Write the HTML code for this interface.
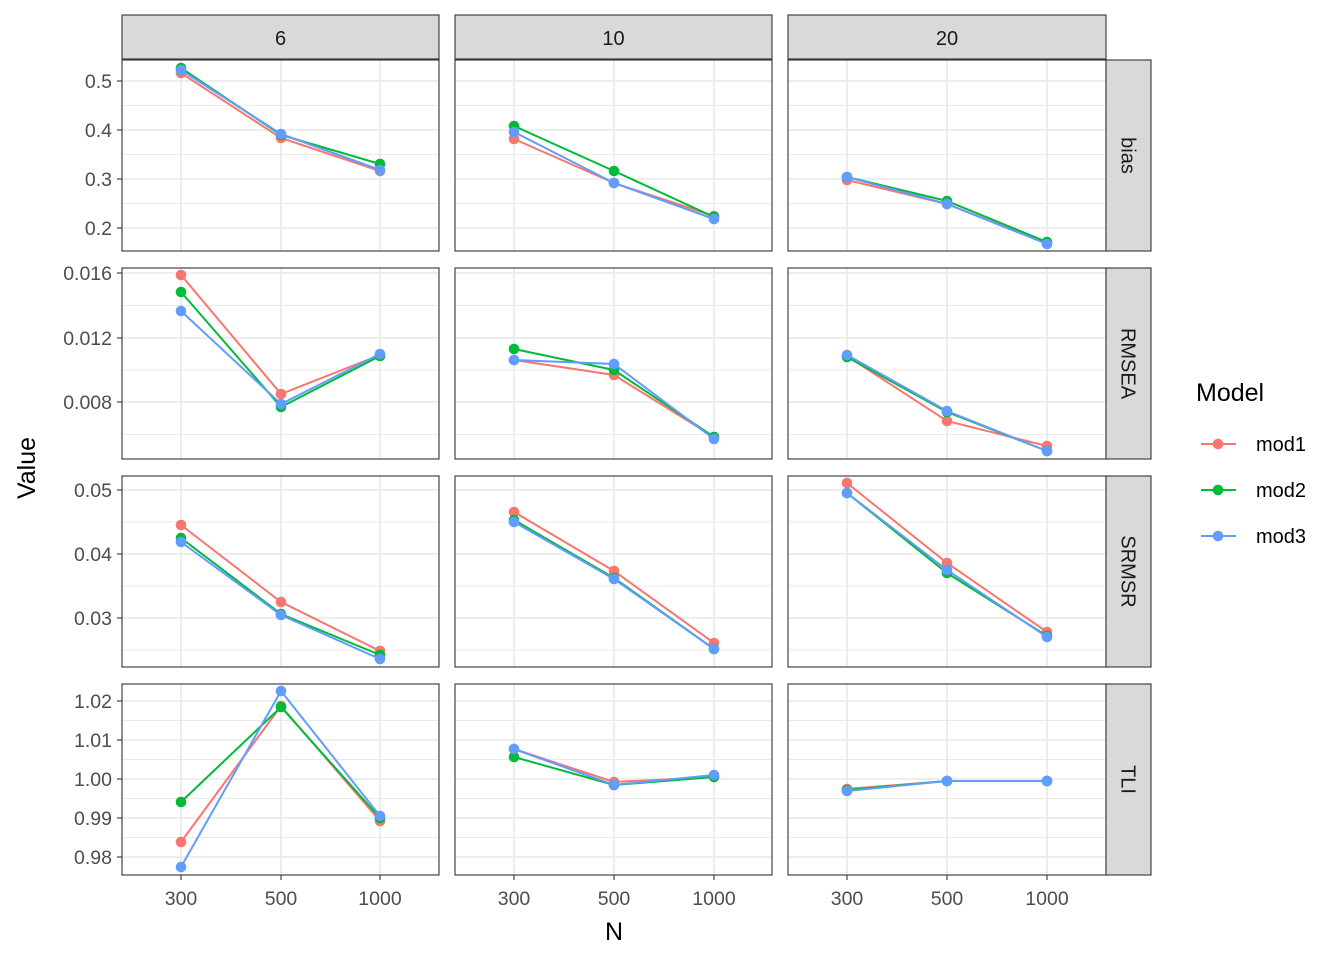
<!DOCTYPE html>
<html><head><meta charset="utf-8"><style>body{margin:0;background:#fff}svg{display:block}text{font-family:"Liberation Sans",Arial,sans-serif}</style></head>
<body>
<svg id="s" width="1344" height="960" xmlns="http://www.w3.org/2000/svg"></svg>
<script>
const s=document.getElementById('s');let h='';
const cols=[[122,439],[455,772],[788,1106]];
const rows=[[60,251],[268,459],[476,667],[684,875]];
const xs=[[181,281,380],[514,614,714],[847,947,1047]];
const ticks=[
 [[81,'0.5'],[130,'0.4'],[179,'0.3'],[228,'0.2']],
 [[273,'0.016'],[338,'0.012'],[402,'0.008']],
 [[490,'0.05'],[554,'0.04'],[618,'0.03']],
 [[701,'1.02'],[740,'1.01'],[779,'1.00'],[818,'0.99'],[857,'0.98']]];
const minors=[[105.5,154.5,203.5],[305.5,370,434.5],[522,586,650],[720.5,759.5,798.5,837.5]];
const colsC=['#F8766D','#00BA38','#619CFF'];
const D=[
[[[73,138,171],[68,135,164],[70,134,170]],[[139,183,216],[126,171,217],[132,183,219]],[[180,204,243],[177,201,242],[177,204,244]]],
[[[275,394,355],[292,407,356],[311,404,354]],[[360,375,437],[349,370,437],[360,364,439]],[[356,421,446],[357,412,451],[355,411,451]]],
[[[525,602,651],[538,614,655],[542,615,659]],[[512,571,643],[520,578,649],[522,579,649]],[[483,563,632],[493,573,636],[493,570,637]]],
[[[842,706,821],[802,707,818],[867,691,816]],[[749,782,777],[757,785,777],[749,785,775]],[[789,781,781],[790,781,781],[791,781,781]]]];
const rl=['bias','RMSEA','SRMSR','TLI'],cl=['6','10','20'];
rows.forEach((r,ri)=>{cols.forEach((c,ci)=>{
 h+=`<rect x="${c[0]}" y="${r[0]}" width="${c[1]-c[0]}" height="${r[1]-r[0]}" fill="#fff"/>`;
 minors[ri].forEach(y=>h+=`<line x1="${c[0]}" x2="${c[1]}" y1="${y}" y2="${y}" stroke="#EBEBEB" stroke-width="0.9"/>`);
 ticks[ri].forEach(t=>h+=`<line x1="${c[0]}" x2="${c[1]}" y1="${t[0]}" y2="${t[0]}" stroke="#EBEBEB" stroke-width="1.8"/>`);
 xs[ci].forEach(x=>h+=`<line x1="${x}" x2="${x}" y1="${r[0]}" y2="${r[1]}" stroke="#EBEBEB" stroke-width="1.8"/>`);
 D[ri][ci].forEach((ys,k)=>{
  h+=`<polyline points="${ys.map((y,i)=>xs[ci][i]+','+y).join(' ')}" fill="none" stroke="${colsC[k]}" stroke-width="2"/>`;
  ys.forEach((y,i)=>h+=`<circle cx="${xs[ci][i]}" cy="${y}" r="5.3" fill="${colsC[k]}"/>`);
 });
 h+=`<rect x="${c[0]}" y="${r[0]}" width="${c[1]-c[0]}" height="${r[1]-r[0]}" fill="none" stroke="#333" stroke-width="1.1"/>`;
});
 ticks[ri].forEach(t=>{h+=`<line x1="117" x2="122" y1="${t[0]}" y2="${t[0]}" stroke="#333" stroke-width="1.1"/><text x="112" y="${t[0]+7}" text-anchor="end" font-size="19.5" fill="#4D4D4D">${t[1]}</text>`});
 h+=`<rect x="1106" y="${r[0]}" width="45" height="${r[1]-r[0]}" fill="#D9D9D9" stroke="#333" stroke-width="1.1"/>`;
 const cy=(r[0]+r[1])/2;h+=`<text x="1128.5" y="${cy}" transform="rotate(90 1128.5 ${cy})" text-anchor="middle" dy="7" font-size="20" fill="#1A1A1A">${rl[ri]}</text>`;
});
cols.forEach((c,ci)=>{
 h+=`<rect x="${c[0]}" y="15" width="${c[1]-c[0]}" height="44" fill="#D9D9D9" stroke="#333" stroke-width="1.1"/>`;
 h+=`<text x="${(c[0]+c[1])/2}" y="45" text-anchor="middle" font-size="20" fill="#1A1A1A">${cl[ci]}</text>`;
 xs[ci].forEach((x,i)=>h+=`<line x1="${x}" x2="${x}" y1="875" y2="880" stroke="#333" stroke-width="1.1"/><text x="${x}" y="905" text-anchor="middle" font-size="19.5" fill="#4D4D4D">${[300,500,1000][i]}</text>`);
});
h+=`<text x="614" y="940" text-anchor="middle" font-size="25">N</text>`;
h+=`<text x="35" y="468" transform="rotate(-90 35 468)" text-anchor="middle" font-size="25">Value</text>`;
h+=`<text x="1196" y="401" font-size="25">Model</text>`;
['mod1','mod2','mod3'].forEach((m,k)=>{const y=444+46*k;
 h+=`<line x1="1201" x2="1236" y1="${y}" y2="${y}" stroke="${colsC[k]}" stroke-width="2"/><circle cx="1218" cy="${y}" r="5.3" fill="${colsC[k]}"/><text x="1256" y="${y+7}" font-size="20" fill="#000">${m}</text>`;});
s.innerHTML=h;
</script>
</body></html>
